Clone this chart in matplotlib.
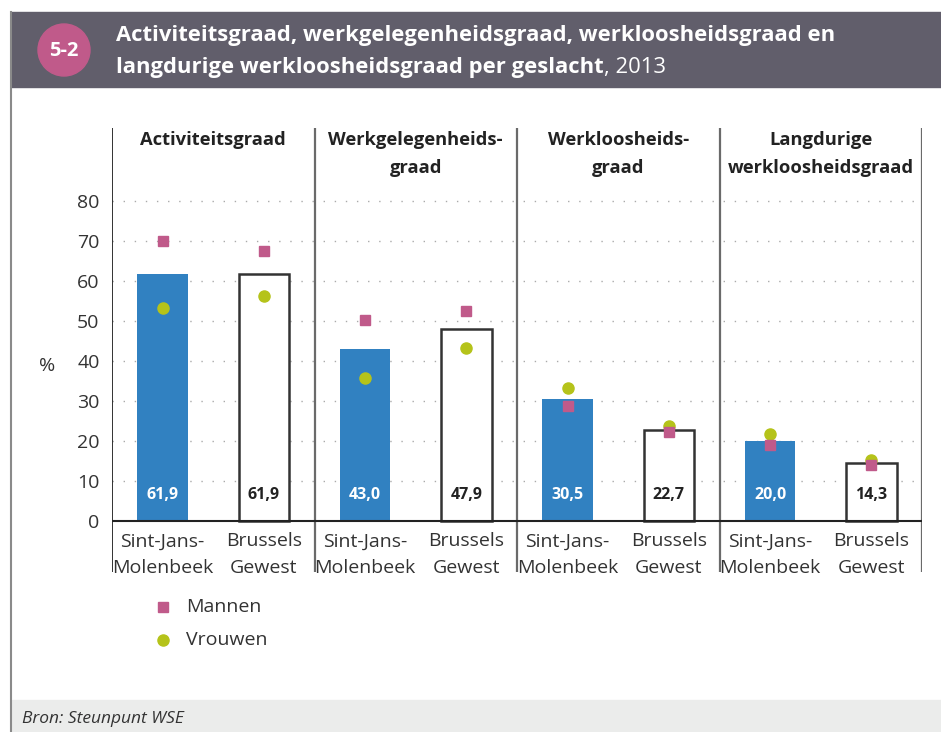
import numpy as np
import matplotlib.pyplot as plt
from matplotlib.patches import Rectangle, Circle

plt.rcParams['font.family'] = ['Open Sans', 'DejaVu Sans']

# data
panels = ['Activiteitsgraad', 'Werkgelegenheids-\ngraad', 'Werkloosheids-\ngraad',
          'Langdurige\nwerkloosheidsgraad']
regions = ['Sint-Jans-\nMolenbeek', 'Brussels\nGewest']
totaal_sjm = [61.9, 43.0, 30.5, 20.0]
totaal_bru = [61.9, 47.9, 22.7, 14.3]
mannen_sjm = [70.1, 50.2, 28.7, 19.0]
mannen_bru = [67.5, 52.6, 22.3, 14.0]
vrouwen_sjm = [53.2, 35.7, 33.1, 21.7]
vrouwen_bru = [56.3, 43.2, 23.8, 15.2]
yticks = [0, 10, 20, 30, 40, 50, 60, 70, 80]

blue = '#3181c1'
pink = '#c05a8a'
green = '#b5c31a'
header = '#615e6b'

W, H = 941, 732
fig = plt.figure(figsize=(W / 100, H / 100), dpi=100)

# background layer in pixel coordinates
bg = fig.add_axes([0, 0, 1, 1], zorder=0)
bg.set_xlim(0, W)
bg.set_ylim(H, 0)
bg.axis('off')
bg.add_patch(Rectangle((11, 12), W - 11, 75, color=header))
bg.add_patch(Rectangle((12, 700), W - 12, 32, color='#ebeceb'))
bg.plot([11.5, 11.5], [12, H], color='#8a8a8a', lw=1.5)
bg.add_patch(Circle((64, 50), 26, color=pink))
bg.text(64, 51, '5-2', color='white', fontsize=14.5, fontweight='bold', ha='center', va='center')
t1 = bg.text(116, 36, 'Activiteitsgraad, werkgelegenheidsgraad, werkloosheidsgraad en',
             color='white', fontsize=15.8, fontweight='bold', va='center')
t2 = bg.text(116, 67, 'langdurige werkloosheidsgraad per geslacht',
             color='white', fontsize=15.8, fontweight='bold', va='center')
bg.annotate(', 2013', xy=(1, 0), xycoords=t2, va='bottom', color='white', fontsize=15.8)
bg.text(22, 719, 'Bron: Steunpunt WSE', fontsize=12.5, style='italic', color='#333333', va='center')

# legend
bg.plot(163, 607, 's', color=pink, markersize=7.5)
bg.plot(163, 640, 'o', color=green, markersize=8)
bg.text(186, 607, 'Mannen', fontsize=14, color='#333333', va='center')
bg.text(186, 640, 'Vrouwen', fontsize=14, color='#333333', va='center')

# main chart
top_px, bot_px = 128, 572
ax = fig.add_axes([112 / W, 1 - bot_px / H, (922 - 112) / W, (bot_px - top_px) / H], zorder=1)
ax.patch.set_alpha(0)
zero_px, scale = 520.5, 3.99
ax.set_ylim((zero_px - bot_px) / scale, (zero_px - top_px) / scale)
ax.set_xlim(0, 4)
for s in ax.spines.values():
    s.set_visible(False)
ax.set_xticks([])
ax.set_yticks(yticks)
ax.tick_params(axis='y', length=0, pad=9, labelsize=14, labelcolor='#333333')

for v in yticks[1:]:
    ax.plot([0, 4], [v, v], color='#aaaaaa', lw=1, linestyle=(0, (1, 7)), zorder=1)
ax.plot([0, 4], [0, 0], color='#222222', lw=1.5, zorder=4)
ax.axvline(0, color='#222222', lw=1.3)
for xv in [1, 2, 3, 4]:
    ax.axvline(xv, color='#6a6a6a', lw=1.6)

x = np.arange(4)
ax.bar(x + 0.25, totaal_sjm, width=0.25, color=blue, zorder=2)
ax.bar(x + 0.75, totaal_bru, width=0.25, color='white', edgecolor='#333333', linewidth=1.8, zorder=2)
for i in range(4):
    ax.text(i + 0.25, 6.5, f'{totaal_sjm[i]:.1f}'.replace('.', ','), color='white',
            fontsize=11.5, fontweight='bold', ha='center', va='center', zorder=5)
    ax.text(i + 0.75, 6.5, f'{totaal_bru[i]:.1f}'.replace('.', ','), color='#222222',
            fontsize=11.5, fontweight='bold', ha='center', va='center', zorder=5)
    ax.text(i + 0.5, 97.5, panels[i], fontsize=13.2, fontweight='bold', color='#222222',
            ha='center', va='top', linespacing=1.65)
    for j, lab in enumerate(regions):
        ax.text(i + 0.25 + 0.5 * j, -3.0, lab, fontsize=14, color='#333333',
                ha='center', va='top', linespacing=1.6)

ax.plot(x + 0.25, vrouwen_sjm, 'o', color=green, markersize=8, linestyle='none', zorder=6)
ax.plot(x + 0.75, vrouwen_bru, 'o', color=green, markersize=8, linestyle='none', zorder=6)
ax.plot(x + 0.25, mannen_sjm, 's', color=pink, markersize=7.5, linestyle='none', zorder=7)
ax.plot(x + 0.75, mannen_bru, 's', color=pink, markersize=7.5, linestyle='none', zorder=7)

ax.text(-0.32, 38.8, '%', fontsize=14, color='#333333', ha='center', va='center')

fig.savefig('out.png', dpi=100)
